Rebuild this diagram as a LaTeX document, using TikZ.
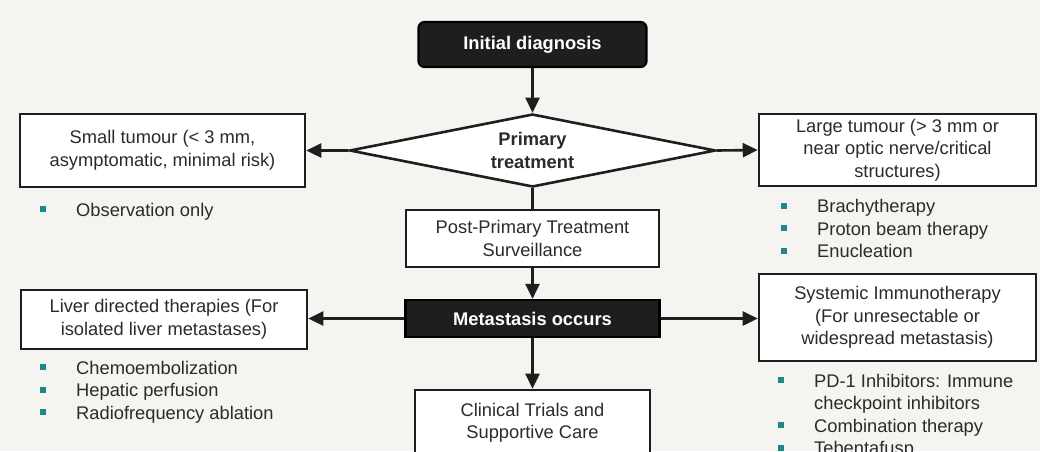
\documentclass[tikz,border=0pt]{standalone}
\usepackage{fontspec}
\setmainfont{Liberation Sans}
\usetikzlibrary{shapes.geometric,arrows.meta}
\definecolor{bgc}{HTML}{F5F4F0}
\definecolor{darkfill}{HTML}{1E1E1E}
\definecolor{txt}{HTML}{2B2B2B}
\definecolor{linec}{HTML}{1E1E1E}
\definecolor{bulc}{RGB}{30,135,140}
\newcommand{\bul}{\makebox[36pt][l]{\textcolor{bulc}{\rule[4pt]{6pt}{6pt}}}}
\newcommand{\nobul}{\hspace*{36pt}}
\tikzset{
  base/.style={font=\fontsize{18.3}{22.5}\selectfont, text=txt},
  whitebox/.style={base, rectangle, draw=linec, line width=2.6pt, fill=white, align=center, inner sep=0pt},
  darkbox/.style={base, rectangle, draw=black, line width=2.2pt, fill=darkfill, text=white, align=center, inner sep=0pt, font=\fontsize{18.3}{22.5}\selectfont\bfseries},
  decision/.style={base, diamond, aspect=5, draw=linec, line width=2.6pt, fill=white, align=center, inner sep=0pt, font=\fontsize{18.3}{22.5}\selectfont\bfseries},
  conn/.style={draw=linec, line width=2.6pt},
  arr/.style={conn, -{Triangle[length=15pt,width=14pt]}},
  bullist/.style={base, anchor=base west, inner sep=0pt, align=left}
}
\begin{document}
\begin{tikzpicture}[x=1pt,y=-1pt]
\fill[bgc] (0,0) rectangle (1040,451);
\useasboundingbox (0,0) rectangle (1040,451);

\node[darkbox, rounded corners=6pt, minimum width=228pt, minimum height=45pt] (init) at (532.5,44.5) {Initial diagnosis};
\node[decision, minimum width=366pt, minimum height=73pt] (prim) at (532.5,150.5) {Primary\\treatment};
\node[whitebox, minimum width=285pt, minimum height=73pt] (small) at (162.5,150.5) {Small tumour (< 3 mm,\\asymptomatic, minimal risk)};
\node[whitebox, minimum width=277pt, minimum height=72pt] (large) at (897.5,150) {Large tumour (> 3 mm or\\near optic nerve/critical\\structures)};
\node[whitebox, minimum width=253pt, minimum height=57pt] (post) at (532.5,238.5) {Post-Primary Treatment\\Surveillance};
\node[darkbox, minimum width=254pt, minimum height=37pt] (meta) at (532.5,318.5) {Metastasis occurs};
\node[whitebox, minimum width=286pt, minimum height=59pt] (liver) at (164,319.5) {Liver directed therapies (For\\isolated liver metastases)};
\node[whitebox, minimum width=277pt, minimum height=87pt] (sys) at (897.5,317.5) {Systemic Immunotherapy\\(For unresectable or\\widespread metastasis)};
\node[whitebox, minimum width=235pt, minimum height=66pt] (clin) at (532.5,423) {Clinical Trials and\\Supportive Care};

\node[bullist] (l1) at (40,216) {\bul Observation only};
\node[bullist] (l2) at (781,257.5) {\bul Brachytherapy\\\bul Proton beam therapy\\\bul Enucleation};
\node[bullist] (l3) at (40,419) {\bul Chemoembolization\\\bul Hepatic perfusion\\\bul Radiofrequency ablation};
\node[bullist] (l4) at (778,454.5) {\bul PD-1 Inhibitors: Immune\\\nobul checkpoint inhibitors\\\bul Combination therapy\\\bul Tebentafusp};

\draw[arr] (init) -- (prim.north);
\draw[arr] (prim.west) -- (small.east);
\draw[arr] (prim.east) -- (large.west);
\draw[conn] (prim.south) -- (post.north);
\draw[arr] (post) -- (meta);
\draw[arr] (meta.west) -- (meta.west -| liver.east);
\draw[arr] (meta.east) -- (meta.east -| sys.west);
\draw[arr] (meta) -- (clin);
\end{tikzpicture}
\end{document}
